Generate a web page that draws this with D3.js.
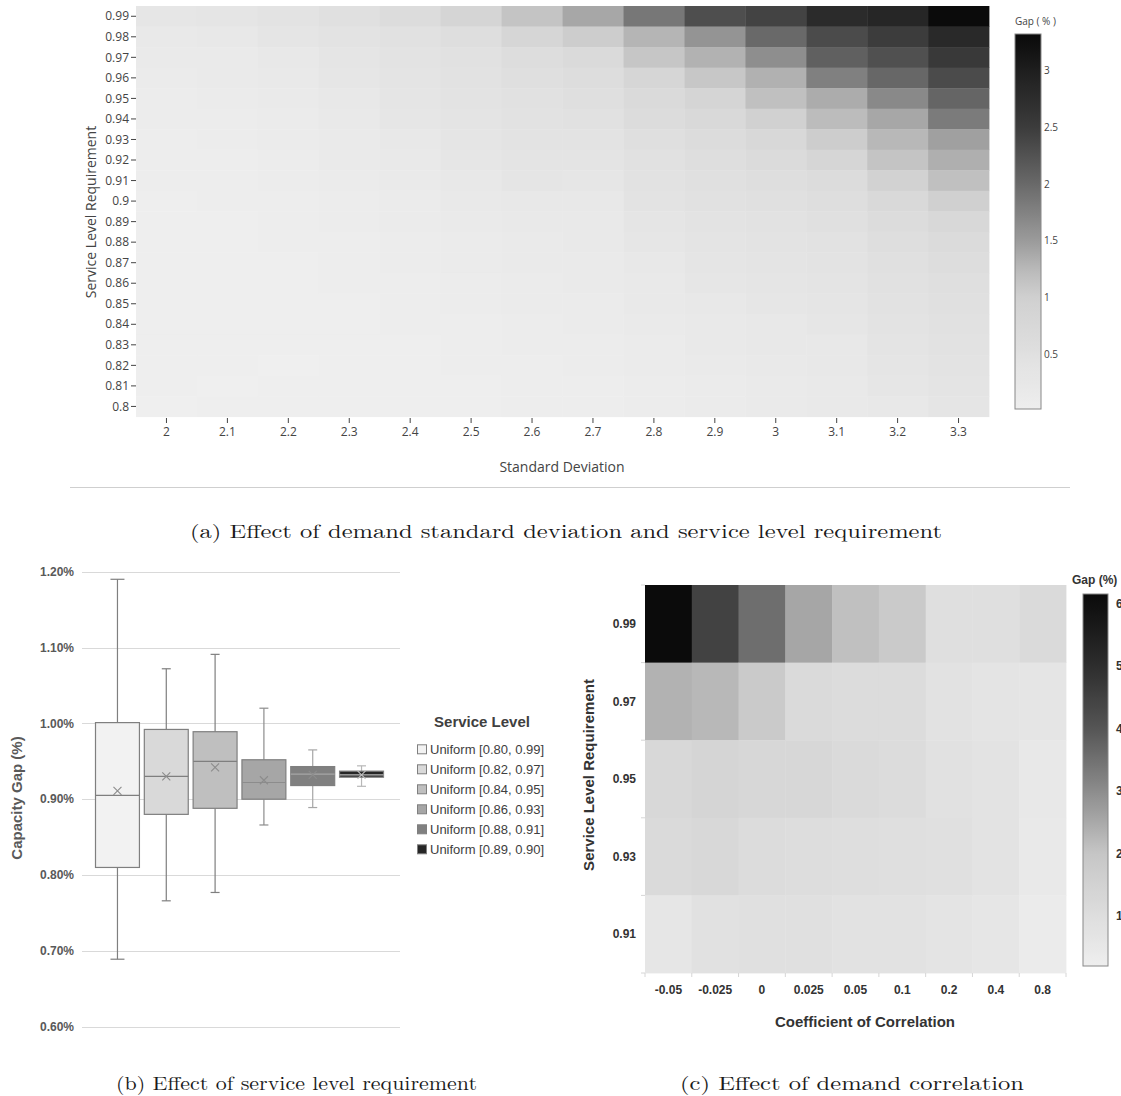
<!DOCTYPE html>
<html>
<head>
<meta charset="utf-8">
<script src="https://cdn.jsdelivr.net/npm/d3@7"></script>
<style>
	body { margin: 0; background: #fff; }
	svg { display: block; }
</style>
</head>
<body>
<svg id="chart" width="1121" height="1096"></svg>
<script>
// (a) gap by standard deviation x service level
const stdDevs = [2, 2.1, 2.2, 2.3, 2.4, 2.5, 2.6, 2.7, 2.8, 2.9, 3, 3.1, 3.2, 3.3];
const serviceLevels = [0.99, 0.98, 0.97, 0.96, 0.95, 0.94, 0.93, 0.92, 0.91, 0.9, 0.89, 0.88, 0.87, 0.86, 0.85, 0.84, 0.83, 0.82, 0.81, 0.8];
const gapBySd = [
	[0.29, 0.32, 0.39, 0.50, 0.63, 0.85, 1.13, 1.40, 1.86, 2.30, 2.42, 2.78, 2.87, 3.30],
	[0.21, 0.25, 0.32, 0.39, 0.46, 0.57, 0.81, 1.03, 1.28, 1.57, 2.00, 2.33, 2.50, 2.82],
	[0.18, 0.18, 0.25, 0.32, 0.39, 0.46, 0.60, 0.69, 1.11, 1.31, 1.63, 2.10, 2.28, 2.55],
	[0.14, 0.18, 0.21, 0.29, 0.36, 0.43, 0.54, 0.60, 0.81, 1.10, 1.32, 1.77, 2.02, 2.33],
	[0.11, 0.14, 0.18, 0.25, 0.32, 0.39, 0.46, 0.54, 0.69, 0.85, 1.17, 1.36, 1.68, 2.05],
	[0.11, 0.11, 0.14, 0.21, 0.29, 0.36, 0.43, 0.46, 0.63, 0.72, 0.97, 1.22, 1.40, 1.82],
	[0.07, 0.11, 0.14, 0.18, 0.25, 0.32, 0.39, 0.39, 0.54, 0.63, 0.75, 1.03, 1.26, 1.46],
	[0.07, 0.07, 0.11, 0.18, 0.21, 0.29, 0.36, 0.36, 0.46, 0.57, 0.66, 0.81, 1.13, 1.33],
	[0.07, 0.07, 0.11, 0.14, 0.18, 0.25, 0.32, 0.29, 0.43, 0.50, 0.57, 0.63, 0.94, 1.17],
	[0.04, 0.07, 0.07, 0.11, 0.14, 0.21, 0.25, 0.25, 0.39, 0.46, 0.50, 0.57, 0.72, 1.00],
	[0.04, 0.04, 0.07, 0.11, 0.14, 0.18, 0.21, 0.21, 0.32, 0.39, 0.43, 0.50, 0.63, 0.75],
	[0.04, 0.04, 0.07, 0.07, 0.11, 0.14, 0.18, 0.21, 0.29, 0.36, 0.39, 0.43, 0.57, 0.66],
	[0.02, 0.04, 0.04, 0.07, 0.11, 0.14, 0.18, 0.18, 0.25, 0.32, 0.36, 0.39, 0.50, 0.60],
	[0.02, 0.04, 0.04, 0.07, 0.07, 0.11, 0.14, 0.18, 0.21, 0.29, 0.32, 0.36, 0.46, 0.54],
	[0.02, 0.02, 0.04, 0.04, 0.07, 0.11, 0.14, 0.14, 0.21, 0.25, 0.29, 0.32, 0.43, 0.50],
	[0.02, 0.02, 0.04, 0.04, 0.07, 0.07, 0.11, 0.14, 0.18, 0.21, 0.25, 0.29, 0.39, 0.46],
	[0.02, 0.02, 0.02, 0.04, 0.04, 0.07, 0.11, 0.11, 0.14, 0.21, 0.25, 0.25, 0.36, 0.43],
	[0.02, 0.02, 0.01, 0.04, 0.04, 0.07, 0.07, 0.11, 0.14, 0.18, 0.21, 0.25, 0.32, 0.39],
	[0.02, 0.01, 0.02, 0.02, 0.04, 0.04, 0.07, 0.07, 0.11, 0.14, 0.18, 0.21, 0.29, 0.36],
	[0.01, 0.02, 0.02, 0.02, 0.02, 0.04, 0.07, 0.07, 0.11, 0.14, 0.18, 0.21, 0.25, 0.32],
];
const gapTicksA = [0.5, 1, 1.5, 2, 2.5, 3];
const gapRangeA = [0.02, 3.32];

// (b) box plot by service level range
const boxLabels = ["Uniform [0.80, 0.99]", "Uniform [0.82, 0.97]", "Uniform [0.84, 0.95]", "Uniform [0.86, 0.93]", "Uniform [0.88, 0.91]", "Uniform [0.89, 0.90]"];
const boxMin = [0.689, 0.766, 0.777, 0.866, 0.889, 0.917];
const boxQ1 = [0.810, 0.880, 0.888, 0.900, 0.918, 0.929];
const boxMedian = [0.905, 0.930, 0.950, 0.922, 0.933, 0.932];
const boxQ3 = [1.001, 0.992, 0.989, 0.952, 0.943, 0.937];
const boxMax = [1.190, 1.072, 1.091, 1.020, 0.965, 0.944];
const boxMean = [0.911, 0.930, 0.942, 0.925, 0.932, 0.932];
const gapTicksB = [0.6, 0.7, 0.8, 0.9, 1.0, 1.1, 1.2];

// (c) gap by correlation x service level
const correlations = ["-0.05", "-0.025", "0", "0.025", "0.05", "0.1", "0.2", "0.4", "0.8"];
const corrLevels = ["0.99", "0.97", "0.95", "0.93", "0.91"];
const gapByCorr = [
	[6.12, 4.48, 3.55, 2.55, 2.10, 1.83, 0.95, 0.95, 1.17],
	[2.34, 2.24, 1.83, 1.17, 1.08, 1.08, 0.80, 0.70, 0.65],
	[1.25, 1.38, 1.29, 1.29, 1.17, 1.08, 0.85, 0.75, 0.50],
	[1.17, 1.25, 1.08, 1.04, 1.00, 0.95, 0.90, 0.75, 0.45],
	[0.60, 0.85, 0.90, 0.90, 0.80, 0.80, 0.70, 0.60, 0.35],
];
const gapTicksC = [1, 2, 3, 4, 5, 6];
const gapRangeC = [0.2, 6.15];

const gray = (v) => `rgb(${v},${v},${v})`;
const colorA = d3.scaleLinear()
	.domain([0, 0.5, 1, 1.25, 1.5, 2, 2.5, 3, 3.32])
	.range([239, 224, 208, 185, 155, 105, 60, 30, 10].map(gray));
const colorC = d3.scaleLinear()
	.domain([0.2, 1, 2, 3, 4, 5, 6.15])
	.range([238, 222, 198, 140, 85, 45, 10].map(gray));

const boxFills = ["#f2f2f2", "#d9d9d9", "#bfbfbf", "#a6a6a6", "#808080", "#262626"];
const boxLines = ["#7f7f7f", "#7f7f7f", "#7f7f7f", "#8c8c8c", "#a6a6a6", "#b8b8b8"];

const svg = d3.select("#chart");
const defs = svg.append("defs");
const plotlyFont = "'Open Sans', verdana, arial, sans-serif";
const officeFont = "'Liberation Sans', Arial, sans-serif";
const texFont = "'Latin Modern Roman', 'CMU Serif', 'DejaVu Serif', serif";

function colorbar(id, color, range, x, y0, y1, w) {
	const grad = defs.append("linearGradient").attr("id", id)
		.attr("x1", 0).attr("y1", 1).attr("x2", 0).attr("y2", 0);
	const stops = d3.range(0, 1.0001, 0.02);
	grad.selectAll("stop").data(stops).join("stop")
		.attr("offset", (t) => t)
		.attr("stop-color", (t) => color(range[0] + t * (range[1] - range[0])));
	const scale = d3.scaleLinear().domain(range).range([y1, y0]);
	svg.append("rect").attr("x", x).attr("y", y0).attr("width", w).attr("height", y1 - y0)
		.attr("fill", `url(#${id})`).attr("stroke", "#888").attr("stroke-width", 1);
	return scale;
}

// ---------- (a) ----------
const gA = svg.append("g");
const xA = d3.scaleBand().domain(stdDevs).range([136, 989]);
const yA = d3.scaleBand().domain(serviceLevels).range([6, 416.7]);

const cellsA = [];
serviceLevels.forEach((s, i) => stdDevs.forEach((d, j) => cellsA.push({ s, d, v: gapBySd[i][j] })));

gA.selectAll(".cell").data(cellsA).join("rect")
	.attr("class", "cell")
	.attr("x", (c) => xA(c.d))
	.attr("y", (c) => yA(c.s))
	.attr("width", xA.bandwidth() + 0.4)
	.attr("height", yA.bandwidth() + 0.4)
	.attr("fill", (c) => colorA(c.v));

const yTickA = gA.selectAll(".ytick").data(serviceLevels).join("g")
	.attr("class", "ytick")
	.attr("transform", (s) => `translate(0,${yA(s) + yA.bandwidth() / 2})`);
yTickA.append("line").attr("x1", 131).attr("x2", 136).attr("stroke", "#444").attr("stroke-width", 1);
yTickA.append("text").attr("x", 129).attr("dy", "0.35em").attr("text-anchor", "end")
	.attr("font-family", plotlyFont).attr("font-size", 12).attr("fill", "#444")
	.text((s) => String(s));

const xTickA = gA.selectAll(".xtick").data(stdDevs).join("g")
	.attr("class", "xtick")
	.attr("transform", (d) => `translate(${xA(d) + xA.bandwidth() / 2},0)`);
xTickA.append("line").attr("y1", 418).attr("y2", 423).attr("stroke", "#444").attr("stroke-width", 1);
xTickA.append("text").attr("y", 435.5).attr("text-anchor", "middle")
	.attr("font-family", plotlyFont).attr("font-size", 12).attr("fill", "#444")
	.text((d) => String(d));

gA.append("text").attr("x", 562).attr("y", 472).attr("text-anchor", "middle")
	.attr("font-family", plotlyFont).attr("font-size", 14).attr("fill", "#444")
	.text("Standard Deviation");
gA.append("text").attr("transform", "translate(96,212) rotate(-90)").attr("text-anchor", "middle")
	.attr("font-family", plotlyFont).attr("font-size", 14).attr("fill", "#444")
	.text("Service Level Requirement");

const cbA = colorbar("gradA", colorA, gapRangeA, 1015, 34, 409, 26);
gA.selectAll(".cbtick").data(gapTicksA).join("text")
	.attr("class", "cbtick")
	.attr("x", 1044).attr("y", (v) => cbA(v)).attr("dy", "0.35em")
	.attr("font-family", plotlyFont).attr("font-size", 10).attr("fill", "#444")
	.text((v) => String(v));
gA.append("text").attr("x", 1015).attr("y", 25)
	.attr("font-family", plotlyFont).attr("font-size", 10).attr("fill", "#444")
	.text("Gap ( % )");

svg.append("line").attr("x1", 70).attr("x2", 1070).attr("y1", 487.5).attr("y2", 487.5)
	.attr("stroke", "#cfcfcf").attr("stroke-width", 1);

// ---------- (b) ----------
const gB = svg.append("g");
const yB = d3.scaleLinear().domain([0.6, 1.2]).range([1026.7, 571.7]);
const xB = d3.scaleBand().domain(boxLabels).range([95.5, 383.5]).paddingInner(0.1);

gB.selectAll(".grid").data(gapTicksB).join("line")
	.attr("class", "grid")
	.attr("x1", 82).attr("x2", 400)
	.attr("y1", (v) => Math.round(yB(v)) + 0.5).attr("y2", (v) => Math.round(yB(v)) + 0.5)
	.attr("stroke", "#d9d9d9").attr("stroke-width", 1);
gB.selectAll(".ylab").data(gapTicksB).join("text")
	.attr("class", "ylab")
	.attr("x", 74).attr("y", (v) => yB(v)).attr("dy", "0.35em").attr("text-anchor", "end")
	.attr("font-family", officeFont).attr("font-weight", "bold").attr("font-size", 12).attr("fill", "#595959")
	.text((v) => d3.format(".2f")(v) + "%");
gB.append("text").attr("transform", "translate(22,798) rotate(-90)").attr("text-anchor", "middle")
	.attr("font-family", officeFont).attr("font-weight", "bold").attr("font-size", 15).attr("fill", "#595959")
	.text("Capacity Gap (%)");

const boxes = boxLabels.map((label, i) => ({
	label, i, min: boxMin[i], q1: boxQ1[i], med: boxMedian[i], q3: boxQ3[i], max: boxMax[i], mean: boxMean[i],
}));
const box = gB.selectAll(".box").data(boxes).join("g")
	.attr("class", "box")
	.attr("transform", (b) => `translate(${xB(b.label)},0)`);
const bw = xB.bandwidth();
const capW = (b) => (b.i === 0 ? 14 : 9);

box.append("line").attr("x1", bw / 2).attr("x2", bw / 2)
	.attr("y1", (b) => yB(b.max)).attr("y2", (b) => yB(b.q3))
	.attr("stroke", (b) => boxLines[b.i]).attr("stroke-width", 1.2);
box.append("line").attr("x1", bw / 2).attr("x2", bw / 2)
	.attr("y1", (b) => yB(b.q1)).attr("y2", (b) => yB(b.min))
	.attr("stroke", (b) => boxLines[b.i]).attr("stroke-width", 1.2);
box.append("line").attr("x1", (b) => bw / 2 - capW(b) / 2).attr("x2", (b) => bw / 2 + capW(b) / 2)
	.attr("y1", (b) => yB(b.max)).attr("y2", (b) => yB(b.max))
	.attr("stroke", (b) => boxLines[b.i]).attr("stroke-width", 1.2);
box.append("line").attr("x1", (b) => bw / 2 - capW(b) / 2).attr("x2", (b) => bw / 2 + capW(b) / 2)
	.attr("y1", (b) => yB(b.min)).attr("y2", (b) => yB(b.min))
	.attr("stroke", (b) => boxLines[b.i]).attr("stroke-width", 1.2);
box.append("rect").attr("x", 0).attr("width", bw)
	.attr("y", (b) => yB(b.q3)).attr("height", (b) => yB(b.q1) - yB(b.q3))
	.attr("fill", (b) => boxFills[b.i]).attr("stroke", "#7f7f7f").attr("stroke-width", 1.2);
box.append("line").attr("x1", 0).attr("x2", bw)
	.attr("y1", (b) => yB(b.med)).attr("y2", (b) => yB(b.med))
	.attr("stroke", (b) => boxLines[b.i]).attr("stroke-width", 1.2);
box.append("path")
	.attr("transform", (b) => `translate(${bw / 2},${yB(b.mean)})`)
	.attr("d", "M-4,-4L4,4M-4,4L4,-4")
	.attr("stroke", (b) => (b.i === 5 ? "#bfbfbf" : "#8c8c8c")).attr("stroke-width", 1.1).attr("fill", "none");

// legend
const legB = gB.append("g");
legB.append("text").attr("x", 482).attr("y", 727).attr("text-anchor", "middle")
	.attr("font-family", officeFont).attr("font-weight", "bold").attr("font-size", 15).attr("fill", "#404040")
	.text("Service Level");
const legItem = legB.selectAll(".leg").data(boxes).join("g")
	.attr("class", "leg")
	.attr("transform", (b) => `translate(417,${749.3 + b.i * 20})`);
legItem.append("rect").attr("x", 0.5).attr("y", -4.5).attr("width", 9).attr("height", 9)
	.attr("fill", (b) => boxFills[b.i]).attr("stroke", "#7f7f7f").attr("stroke-width", 1);
legItem.append("text").attr("x", 13).attr("dy", "0.36em")
	.attr("font-family", officeFont).attr("font-size", 13).attr("fill", "#404040")
	.text((b) => b.label);

// ---------- (c) ----------
const gC = svg.append("g");
const xC = d3.scaleBand().domain(correlations).range([645, 1066]);
const yC = d3.scaleBand().domain(corrLevels).range([585, 973]);

const cellsC = [];
corrLevels.forEach((s, i) => correlations.forEach((c, j) => cellsC.push({ s, c, v: gapByCorr[i][j] })));
gC.selectAll(".cell").data(cellsC).join("rect")
	.attr("class", "cell")
	.attr("x", (d) => xC(d.c))
	.attr("y", (d) => yC(d.s))
	.attr("width", xC.bandwidth() + 0.4)
	.attr("height", yC.bandwidth() + 0.4)
	.attr("fill", (d) => colorC(d.v));

gC.selectAll(".xb").data(correlations.concat([null])).join("line")
	.attr("class", "xb")
	.attr("x1", (c, i) => 645 + i * xC.step()).attr("x2", (c, i) => 645 + i * xC.step())
	.attr("y1", 973).attr("y2", 977).attr("stroke", "#d6d6d6");
gC.selectAll(".yb").data(corrLevels.concat([null])).join("line")
	.attr("class", "yb")
	.attr("y1", (c, i) => 585 + i * yC.step()).attr("y2", (c, i) => 585 + i * yC.step())
	.attr("x1", 641).attr("x2", 645).attr("stroke", "#d6d6d6");

gC.selectAll(".xlab").data(correlations).join("text")
	.attr("class", "xlab")
	.attr("x", (c) => xC(c) + xC.bandwidth() / 2).attr("y", 994)
	.attr("text-anchor", "middle")
	.attr("font-family", officeFont).attr("font-weight", "bold").attr("font-size", 12).attr("fill", "#333")
	.text((c) => c);
gC.selectAll(".ylab").data(corrLevels).join("text")
	.attr("class", "ylab")
	.attr("x", 636).attr("y", (s) => yC(s) + yC.bandwidth() / 2).attr("dy", "0.35em")
	.attr("text-anchor", "end")
	.attr("font-family", officeFont).attr("font-weight", "bold").attr("font-size", 12).attr("fill", "#333")
	.text((s) => s);
gC.append("text").attr("x", 865).attr("y", 1027).attr("text-anchor", "middle")
	.attr("font-family", officeFont).attr("font-weight", "bold").attr("font-size", 15).attr("fill", "#333")
	.text("Coefficient of Correlation");
gC.append("text").attr("transform", "translate(594,775) rotate(-90)").attr("text-anchor", "middle")
	.attr("font-family", officeFont).attr("font-weight", "bold").attr("font-size", 15).attr("fill", "#333")
	.text("Service Level Requirement");

const cbC = colorbar("gradC", colorC, gapRangeC, 1083, 594, 966, 25);
gC.selectAll(".cbtick").data(gapTicksC).join("text")
	.attr("class", "cbtick")
	.attr("x", 1116).attr("y", (v) => cbC(v)).attr("dy", "0.35em")
	.attr("font-family", officeFont).attr("font-weight", "bold").attr("font-size", 12).attr("fill", "#333")
	.text((v) => String(v));
gC.append("text").attr("x", 1072).attr("y", 584)
	.attr("font-family", officeFont).attr("font-weight", "bold").attr("font-size", 12).attr("fill", "#333")
	.text("Gap (%)");

// ---------- captions ----------
const captions = [
	{ text: "(a) Effect of demand standard deviation and service level requirement", x: 190, y: 538, w: 752 },
	{ text: "(b) Effect of service level requirement", x: 116, y: 1090, w: 361 },
	{ text: "(c) Effect of demand correlation", x: 680, y: 1090, w: 344 },
];
svg.selectAll(".caption").data(captions).join("text")
	.attr("class", "caption")
	.attr("x", (c) => c.x).attr("y", (c) => c.y)
	.attr("textLength", (c) => c.w).attr("lengthAdjust", "spacingAndGlyphs")
	.attr("font-family", texFont).attr("font-size", 19).attr("fill", "#1a1a1a")
	.text((c) => c.text);
</script>
</body>
</html>
